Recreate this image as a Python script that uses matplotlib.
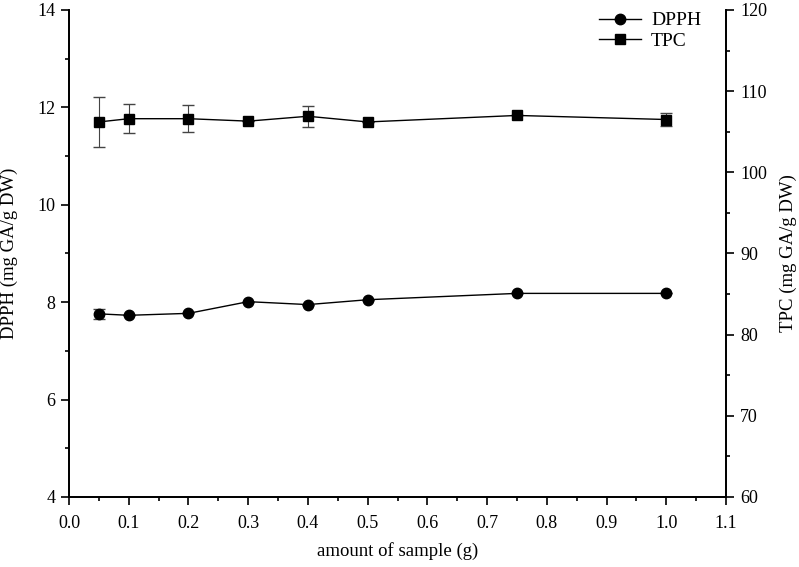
import matplotlib
matplotlib.use("Agg")
import matplotlib.pyplot as plt
from matplotlib.ticker import MultipleLocator, FormatStrFormatter
from matplotlib.lines import Line2D

plt.rcParams['font.family'] = ['Liberation Serif', 'DejaVu Serif']

amount = [0.05, 0.1, 0.2, 0.3, 0.4, 0.5, 0.75, 1.0]
dpph = [7.76, 7.73, 7.77, 8.01, 7.95, 8.05, 8.18, 8.18]
dpph_err = [0.10, 0.0, 0.0, 0.0, 0.0, 0.0, 0.0, 0.0]
tpc = [106.2, 106.6, 106.6, 106.3, 106.9, 106.2, 107.0, 106.5]
tpc_err = [3.1, 1.8, 1.65, 0.0, 1.3, 0.0, 0.0, 0.85]

fig = plt.figure(figsize=(7.99, 5.67), dpi=100)
ax = fig.add_axes([0.0864, 0.1235, 0.8223, 0.859])
ax2 = ax.twinx()

ax.errorbar(amount, dpph, yerr=dpph_err, color='black', marker='o', markersize=7.5,
            linewidth=1, elinewidth=0.8, capsize=4, ecolor='#444444')
ax2.errorbar(amount, tpc, yerr=tpc_err, color='black', marker='s', markersize=6.5,
             linewidth=1, elinewidth=0.8, capsize=4, ecolor='#444444')

ax.set_xlim(0.0, 1.1)
ax.set_ylim(4, 14)
ax2.set_ylim(60, 120)

ax.xaxis.set_major_locator(MultipleLocator(0.1))
ax.xaxis.set_minor_locator(MultipleLocator(0.05))
ax.yaxis.set_major_locator(MultipleLocator(2))
ax.yaxis.set_minor_locator(MultipleLocator(1))
ax2.yaxis.set_major_locator(MultipleLocator(10))
ax2.yaxis.set_minor_locator(MultipleLocator(5))
ax.xaxis.set_major_formatter(FormatStrFormatter('%.1f'))

for a in (ax, ax2):
    a.spines['top'].set_visible(False)
    for s in a.spines.values():
        s.set_linewidth(1.3)
    a.tick_params(which='major', direction='out', length=6, width=1.2, labelsize=13, pad=4)
    a.tick_params(which='minor', direction='out', length=3, width=1.2)
ax.tick_params(axis='x', which='major', pad=7)

ax.set_xlabel('amount of sample (g)', fontsize=13.5)
ax.xaxis.set_label_coords(0.5, -0.092)
ax.set_ylabel('DPPH (mg GA/g DW)', fontsize=13.5)
ax.yaxis.set_label_coords(-0.077, 0.5)
ax2.set_ylabel('TPC (mg GA/g DW)', fontsize=13.5, rotation=90)
ax2.yaxis.set_label_coords(1.082, 0.5)

handles = [Line2D([], [], color='black', marker='o', markersize=7.5, linewidth=1),
           Line2D([], [], color='black', marker='s', markersize=6.5, linewidth=1)]
ax.legend(handles, ['DPPH', 'TPC'], loc='upper right', bbox_to_anchor=(0.98, 1.02),
          frameon=False, fontsize=14, handlelength=2.2, handletextpad=0.5,
          borderpad=0.1, labelspacing=0.15)

fig.savefig('out.png', dpi=100)
